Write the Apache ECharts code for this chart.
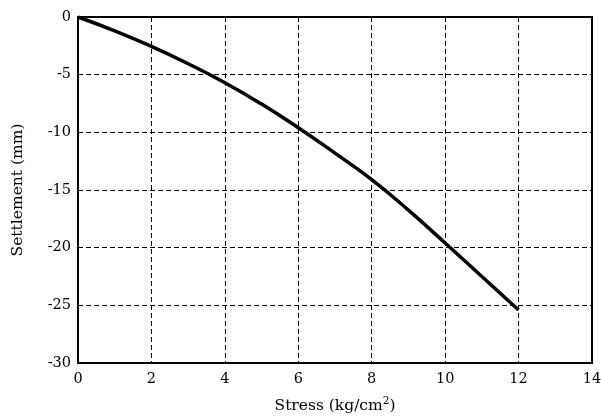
<!DOCTYPE html>
<html><head><meta charset="utf-8">
<script src="https://cdn.jsdelivr.net/npm/echarts@6/dist/echarts.min.js"></script>
<style>html,body{margin:0;padding:0;background:#fff}#c{width:601px;height:417px}</style>
</head><body><div id="c"></div>
<script>
const stress = [0, 1, 2, 3, 4, 5, 6, 7, 8, 9, 10, 11, 12];
const settlement = [0, -1.2, -2.55, -4.05, -5.7, -7.55, -9.6, -11.8, -14.1, -16.75, -19.6, -22.5, -25.4];
const xTicks = [0, 2, 4, 6, 8, 10, 12, 14];
const yTicks = [0, -5, -10, -15, -20, -25, -30];

const font = '"DejaVu Serif", "Liberation Serif", serif';
const chart = echarts.init(document.getElementById('c'), null, {renderer: 'canvas'});
chart.setOption({
  animation: false,
  grid: {left: 78, right: 9, top: 17, bottom: 54, containLabel: false, outerBoundsMode: 'none',
    show: true, borderColor: '#000', borderWidth: 2, backgroundColor: 'transparent'},
  xAxis: {
    type: 'value', min: xTicks[0], max: xTicks[xTicks.length - 1], interval: 2,
    name: 'Stress (kg/cm{sup|2})', nameLocation: 'middle', nameGap: 33,
    nameTextStyle: {fontFamily: font, fontSize: 15.5, color: '#000',
      rich: {sup: {fontFamily: font, fontSize: 10.5, color: '#000', verticalAlign: 'bottom', padding: [0, 0, 8, 0]}}},
    axisLine: {show: false},
    axisTick: {show: false},
    axisLabel: {fontFamily: font, fontSize: 14.5, color: '#000', margin: 9},
    splitLine: {show: true, lineStyle: {color: '#000', type: [5, 3], width: 1}}
  },
  yAxis: {
    type: 'value', min: yTicks[yTicks.length - 1], max: yTicks[0], interval: 5,
    name: 'Settlement (mm)', nameLocation: 'middle', nameGap: 52, nameRotate: 90,
    nameTextStyle: {fontFamily: font, fontSize: 15.5, color: '#000'},
    axisLine: {show: false},
    axisTick: {show: false},
    axisLabel: {fontFamily: font, fontSize: 14.5, color: '#000', margin: 7},
    splitLine: {show: true, lineStyle: {color: '#000', type: [5, 3], width: 1}}
  },
  series: [{
    type: 'line', data: stress.map((s, i) => [s, settlement[i]]),
    smooth: true, showSymbol: false,
    lineStyle: {color: '#000', width: 3.5}
  }]
});
</script></body></html>
